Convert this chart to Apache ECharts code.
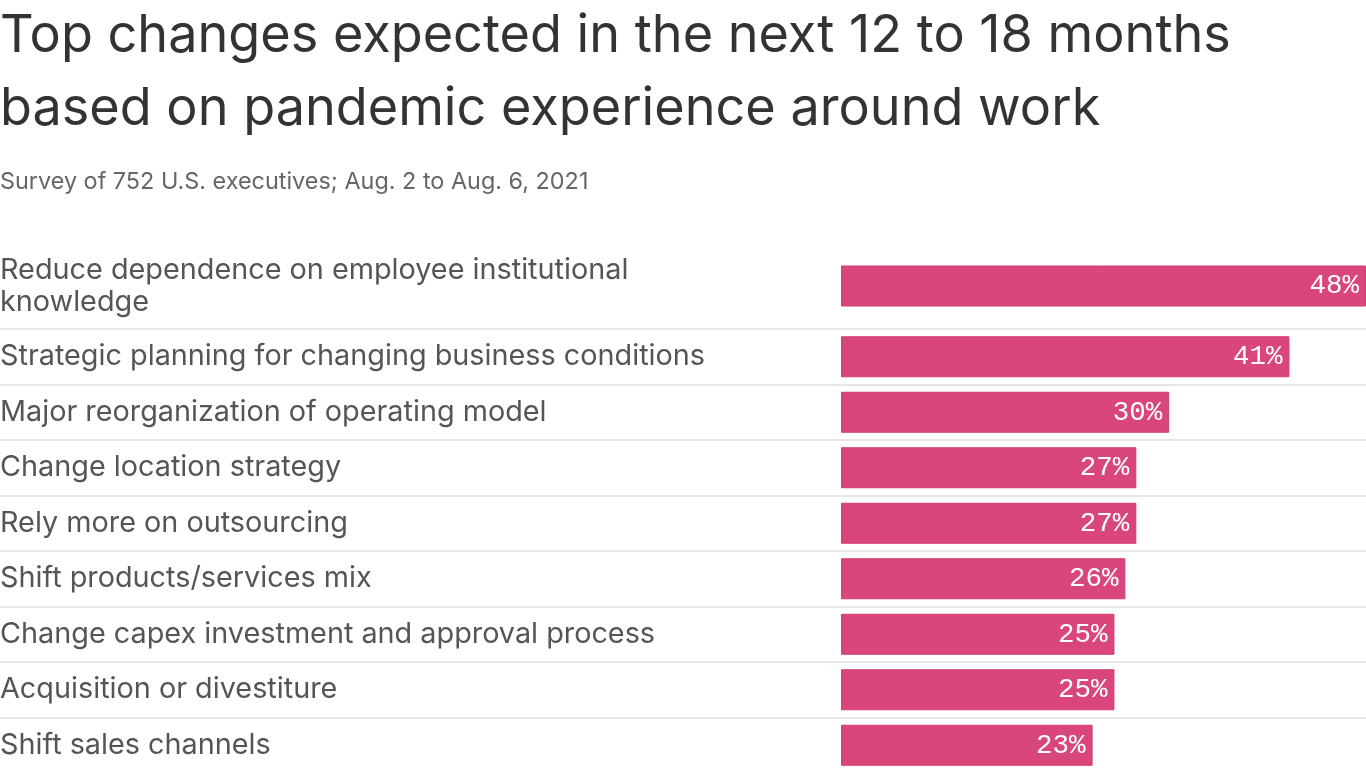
<!DOCTYPE html>
<html>
<head>
<meta charset="utf-8">
<script src="https://cdn.jsdelivr.net/npm/echarts@6/dist/echarts.min.js"></script>
<style>
html,body{margin:0;padding:0;background:#fff;}
#chart{width:1366px;height:768px;}
</style>
</head>
<body>
<div id="chart"></div>
<script>
const titleText = "Top changes expected in the next 12 to 18 months\nbased on pandemic experience around work";
const subtitleText = "Survey of 752 U.S. executives; Aug. 2 to Aug. 6, 2021";
const categories = [
  "Reduce dependence on employee institutional\nknowledge",
  "Strategic planning for changing business conditions",
  "Major reorganization of operating model",
  "Change location strategy",
  "Rely more on outsourcing",
  "Shift products/services mix",
  "Change capex investment and approval process",
  "Acquisition or divestiture",
  "Shift sales channels"
];
const values = [48, 41, 30, 27, 27, 26, 25, 25, 23];

const labelFont = "Inter, 'Noto Sans', sans-serif";
const barColor = "#d9467b";

const chart = echarts.init(document.getElementById('chart'));

function yAxisCfg(gridIndex, cats, split) {
  return {
    type: 'category', gridIndex: gridIndex, data: cats, inverse: true,
    axisLine: {show: false}, axisTick: {show: false},
    axisLabel: {inside: true, margin: 0, color: '#555', fontSize: 28.8,
      fontFamily: labelFont, lineHeight: 32, align: 'left'},
    splitLine: {show: split, lineStyle: {color: '#e6e6e6', width: 2}}
  };
}
function xAxisCfg(gridIndex) {
  return {type: 'value', gridIndex: gridIndex, min: -76.9, max: 48, show: false, splitLine: {show: false}};
}
function barSeries(idx, data) {
  return {
    type: 'bar', xAxisIndex: idx, yAxisIndex: idx, data: data, barWidth: 41,
    itemStyle: {color: barColor, borderColor: '#d33c73', borderWidth: 1},
    label: {show: true, position: 'insideRight', distance: 7, formatter: '{c}%',
      color: '#fff', fontSize: 27.5, fontFamily: "'Liberation Mono', 'DejaVu Sans Mono', monospace"},
    silent: true, animation: false
  };
}

chart.setOption({
  animation: false,
  title: [
    {text: titleText, left: 0, top: 0, padding: 0,
     textStyle: {color: '#333', fontSize: 52.2, fontWeight: 'normal', fontFamily: labelFont, lineHeight: 73}},
    {text: subtitleText, left: 0, top: 170, padding: 0,
     textStyle: {color: '#666', fontSize: 23.4, fontWeight: 'normal', fontFamily: labelFont}}
  ],
  grid: [
    {left: 0, right: 0, top: 258, height: 56, outerBoundsMode: 'none', containLabel: false},
    {left: 0, right: 0, top: 329, height: 444, outerBoundsMode: 'none', containLabel: false}
  ],
  xAxis: [xAxisCfg(0), xAxisCfg(1)],
  yAxis: [yAxisCfg(0, categories.slice(0, 1), false), yAxisCfg(1, categories.slice(1), true)],
  series: [barSeries(0, values.slice(0, 1)), barSeries(1, values.slice(1))]
});
</script>
</body>
</html>
